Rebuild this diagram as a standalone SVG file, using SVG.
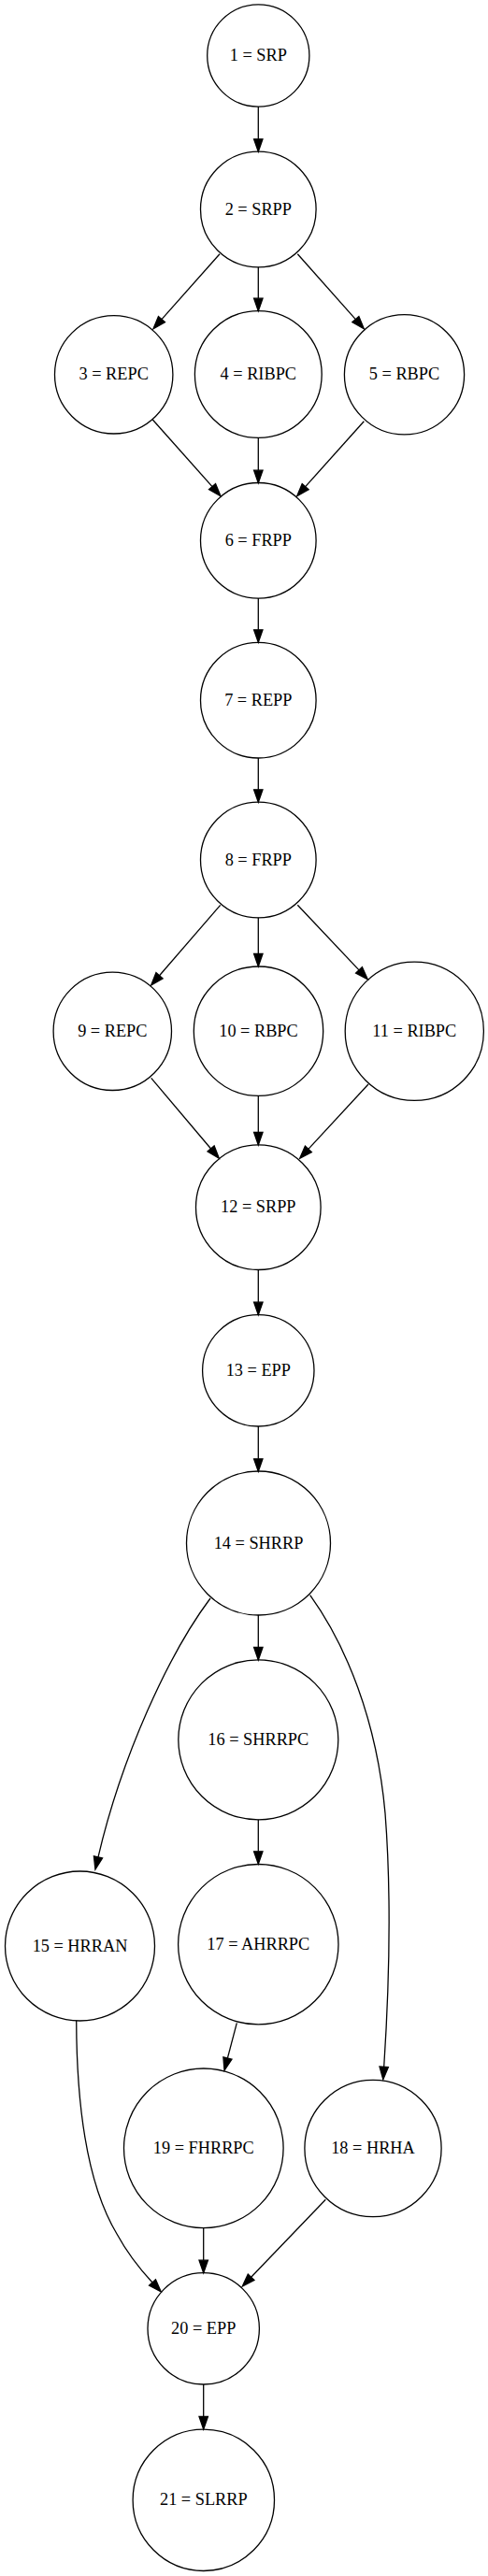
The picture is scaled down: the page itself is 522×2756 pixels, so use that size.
<svg xmlns="http://www.w3.org/2000/svg" width="522" height="2756" viewBox="0 0 522 2756">
<style>
.n circle{fill:none;stroke:#000;stroke-width:1.3}
.n text{font-family:"Liberation Serif","Times New Roman",serif;font-size:18.3px;text-anchor:middle;fill:#000}
.e path{fill:none;stroke:#000;stroke-width:1.3;marker-end:url(#ah)}
</style>
<defs>
<marker id="ah" markerUnits="userSpaceOnUse" markerWidth="16" markerHeight="12" refX="0" refY="0" viewBox="0 -6 16 12" orient="auto" overflow="visible">
<path d="M0,-4.7 L13.5,0 L0,4.7 Z" fill="#000" stroke="#000" stroke-width="1.3"/>
</marker>
</defs>
<rect width="522" height="2756" fill="#fff"/>
<g id="edges" class="e">
<path d="M276.3,114 L276.3,148.8"/>
<path d="M235,271.7 L172.96,341.6"/>
<path d="M276.3,285.7 L276.3,319.2"/>
<path d="M318.3,271.7 L380.34,341.6"/>
<path d="M163.3,449 L227.03,520.62"/>
<path d="M276.3,468.3 L276.3,503.2"/>
<path d="M389.3,450.7 L326.7,520.64"/>
<path d="M276.3,640 L276.3,673.8"/>
<path d="M276.3,811 L276.3,844.8"/>
<path d="M235.7,968.3 L170.52,1043.78"/>
<path d="M276.3,981.7 L276.3,1020.5"/>
<path d="M318.3,968.3 L384.03,1037.88"/>
<path d="M161.7,1153.3 L225.59,1228.98"/>
<path d="M276.3,1172.3 L276.3,1211.5"/>
<path d="M394,1160 L329.86,1229.39"/>
<path d="M276.3,1358.3 L276.3,1393.2"/>
<path d="M276.3,1526 L276.3,1560.8"/>
<path d="M276.3,1727.7 L276.3,1762.5"/>
<path d="M225,1710 C180,1770 130,1880 105,1986.9"/>
<path d="M331.7,1706.7 C370,1760 403,1840 412,1940 C419,2030 416,2130 410.7,2211.3"/>
<path d="M276.3,1946.7 L276.3,1980.8"/>
<path d="M253.3,2164.3 L243.43,2201.94"/>
<path d="M81.7,2161.7 C82,2260 95,2340 125,2390 C137,2412 150,2428 163,2442"/>
<path d="M217.7,2383.3 L217.7,2418.2"/>
<path d="M348.3,2353.3 L268.65,2436.26"/>
<path d="M217.7,2551 L217.7,2585.5"/>
</g>
<g id="n1" class="n"><circle cx="276.3" cy="59.5" r="54.6"/><text x="276.3" y="65">1 = SRP</text></g>
<g id="n2" class="n"><circle cx="276.3" cy="224" r="61.8"/><text x="276.3" y="229.5">2 = SRPP</text></g>
<g id="n3" class="n"><circle cx="121.7" cy="400.8" r="63.2"/><text x="121.7" y="406.3">3 = REPC</text></g>
<g id="n4" class="n"><circle cx="276.3" cy="400.5" r="67.9"/><text x="276.3" y="406">4 = RIBPC</text></g>
<g id="n5" class="n"><circle cx="432.5" cy="400.8" r="64.1"/><text x="432.5" y="406.3">5 = RBPC</text></g>
<g id="n6" class="n"><circle cx="276.3" cy="578.3" r="61.8"/><text x="276.3" y="583.8">6 = FRPP</text></g>
<g id="n7" class="n"><circle cx="276.3" cy="749.2" r="61.8"/><text x="276.3" y="754.7">7 = REPP</text></g>
<g id="n8" class="n"><circle cx="276.3" cy="920" r="61.8"/><text x="276.3" y="925.5">8 = FRPP</text></g>
<g id="n9" class="n"><circle cx="120.3" cy="1103.3" r="63.2"/><text x="120.3" y="1108.8">9 = REPC</text></g>
<g id="n10" class="n"><circle cx="276.5" cy="1103.2" r="69.2"/><text x="276.5" y="1108.7">10 = RBPC</text></g>
<g id="n11" class="n"><circle cx="443.3" cy="1103.3" r="74.1"/><text x="443.3" y="1108.8">11 = RIBPC</text></g>
<g id="n12" class="n"><circle cx="276.3" cy="1291.7" r="66.8"/><text x="276.3" y="1297.2">12 = SRPP</text></g>
<g id="n13" class="n"><circle cx="276.3" cy="1466.3" r="59.7"/><text x="276.3" y="1471.8">13 = EPP</text></g>
<g id="n14" class="n"><circle cx="276.5" cy="1651" r="77"/><text x="276.5" y="1656.5">14 = SHRRP</text></g>
<g id="n15" class="n"><circle cx="85.5" cy="2082" r="80"/><text x="85.5" y="2087.5">15 = HRRAN</text></g>
<g id="n16" class="n"><circle cx="276.3" cy="1861.3" r="85.5"/><text x="276.3" y="1866.8">16 = SHRRPC</text></g>
<g id="n17" class="n"><circle cx="276.3" cy="2080.2" r="85.7"/><text x="276.3" y="2085.7">17 = AHRRPC</text></g>
<g id="n18" class="n"><circle cx="399" cy="2298.5" r="73.1"/><text x="399" y="2304">18 = HRHA</text></g>
<g id="n19" class="n"><circle cx="217.8" cy="2298.3" r="85.3"/><text x="217.8" y="2303.8">19 = FHRRPC</text></g>
<g id="n20" class="n"><circle cx="217.7" cy="2491.3" r="59.7"/><text x="217.7" y="2496.8">20 = EPP</text></g>
<g id="n21" class="n"><circle cx="217.8" cy="2674.8" r="75.7"/><text x="217.8" y="2680.3">21 = SLRRP</text></g>
</svg>
